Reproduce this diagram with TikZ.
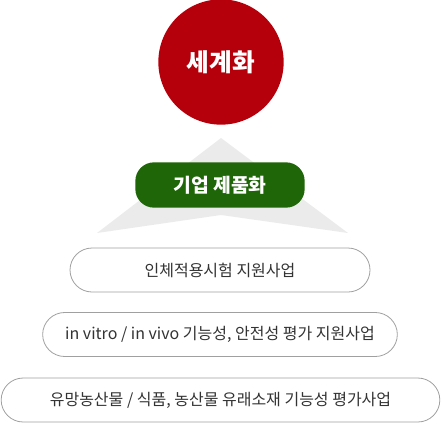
\documentclass[tikz,border=0pt]{standalone}
\usepackage{fontspec}
\setmainfont{Noto Sans CJK KR}
\definecolor{globalRed}{HTML}{B5000B}
\definecolor{productGreen}{HTML}{1F6608}
\definecolor{arrowGray}{HTML}{EBEBEB}
\definecolor{pillLine}{HTML}{A0A0A0}
\definecolor{pillText}{HTML}{333333}
\begin{document}
\begin{tikzpicture}[x=0.75pt, y=-0.75pt,
	pill/.style={rectangle, rounded corners=16.5pt, draw=pillLine, line width=0.6pt, fill=white, minimum height=33pt, text=pillText, font=\fontsize{12}{14}\selectfont}]
	\useasboundingbox (0,0) rectangle (441,424);

	\fill[arrowGray] (221,138) -- (348,233) -- (221,215) -- (97,233) -- cycle;

	\node[circle, fill=globalRed, minimum size=94pt, inner sep=0pt, text=white, font=\fontsize{18.5}{20}\selectfont\bfseries](globalNode) at (221,62){세계화};
	\node[rectangle, rounded corners=14pt, fill=productGreen, minimum width=127pt, minimum height=34pt, text=white, font=\fontsize{14.5}{16}\selectfont\bfseries](productNode) at (220,185){기업 제품화};

	\node[pill, minimum width=225pt](clinicalPill) at (220,270){인체적용시험 지원사업};
	\node[pill, minimum width=266pt](evalPill)     at (220,334.5){in vitro / in vivo 기능성, 안전성 평가 지원사업};
	\node[pill, minimum width=329pt](foodPill)     at (220.5,400){유망농산물 / 식품, 농산물 유래소재 기능성 평가사업};
\end{tikzpicture}
\end{document}
